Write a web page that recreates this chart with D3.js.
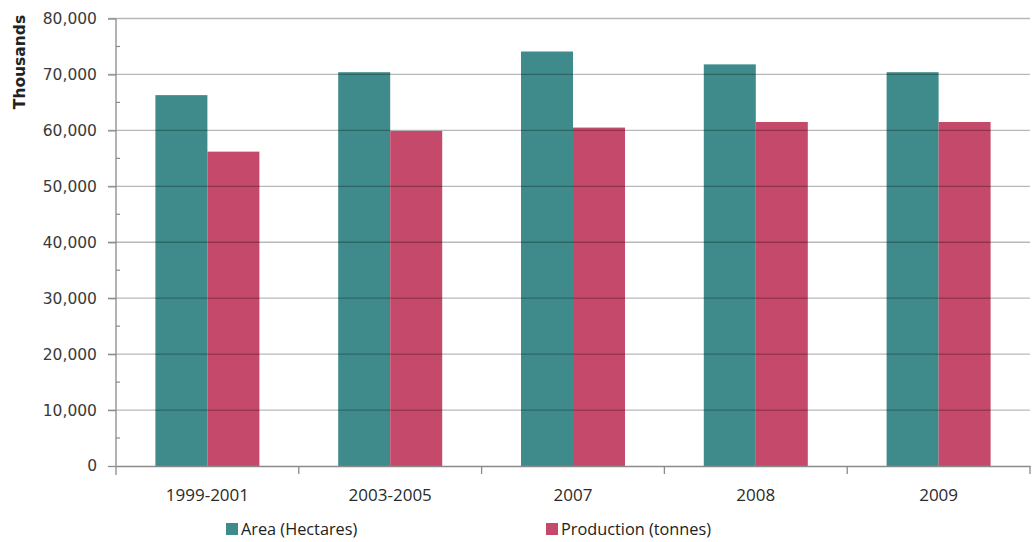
<!DOCTYPE html>
<html>
<head>
<meta charset="utf-8">
<script src="https://cdn.jsdelivr.net/npm/d3@7"></script>
<style>
  html, body { margin: 0; padding: 0; background: #fff; }
  svg { display: block; }
</style>
</head>
<body>
<svg id="chart" width="1033" height="542"></svg>
<script>
// Harvested area and production by period (thousands)
const categories = ["1999-2001", "2003-2005", "2007", "2008", "2009"];
const areaValues = [66300, 70400, 74100, 71800, 70400];
const productionValues = [56200, 59900, 60500, 61500, 61500];
const seriesNames = ["Area (Hectares)", "Production (tonnes)"];
const yTicks = [0, 10000, 20000, 30000, 40000, 50000, 60000, 70000, 80000];

const colors = ["#3f8b8b", "#c4496a"];
const svg = d3.select("#chart");
const margin = { left: 116, right: 1030, top: 18.5, bottom: 466 };

const x = d3.scaleBand().domain(categories).range([margin.left, margin.right]).paddingInner(0).paddingOuter(0);
const inner = d3.scaleBand().domain([0, 1]).range([0, 104]);
const y = d3.scaleLinear().domain([0, 80000]).range([margin.bottom, margin.top]);

const rows = categories.map((c, i) => ({ cat: c, vals: [areaValues[i], productionValues[i]] }));

// bars
const groups = svg.append("g").selectAll("g").data(rows).join("g")
  .attr("transform", d => `translate(${x(d.cat) + (x.bandwidth() - 104) / 2},0)`);
groups.selectAll("rect").data(d => d.vals).join("rect")
  .attr("x", (d, i) => inner(i))
  .attr("width", inner.bandwidth())
  .attr("y", d => y(d))
  .attr("height", d => y(0) - y(d))
  .attr("fill", (d, i) => colors[i]);

// horizontal gridlines drawn over the bars
svg.append("g").selectAll("line").data(yTicks.filter(t => t > 0)).join("line")
  .attr("x1", margin.left - 8).attr("x2", margin.right)
  .attr("y1", d => y(d)).attr("y2", d => y(d))
  .attr("stroke", "#000").attr("stroke-opacity", 0.28).attr("stroke-width", 1.3);

// y axis
const yAxis = d3.axisLeft(y).tickValues(yTicks).tickSize(8).tickFormat(d3.format(","));
const yg = svg.append("g").attr("transform", `translate(${margin.left},0)`).call(yAxis);
yg.select(".domain").remove();
yg.selectAll(".tick line").attr("stroke", "#8a8a8a").attr("stroke-width", 1.3);
yg.selectAll(".tick text")
  .attr("x", -19)
  .style("font-family", "'DejaVu Sans', sans-serif")
  .style("font-size", "15.5px")
  .attr("fill", "#3a3a3a");
svg.append("line")
  .attr("x1", margin.left).attr("x2", margin.left)
  .attr("y1", margin.top).attr("y2", margin.bottom + 9)
  .attr("stroke", "#8a8a8a").attr("stroke-width", 1.3);

// minor ticks between the labelled values
const minor = d3.range(5000, 80000, 10000);
svg.append("g").selectAll("line").data(minor).join("line")
  .attr("x1", margin.left).attr("x2", margin.left + 4)
  .attr("y1", d => y(d)).attr("y2", d => y(d))
  .attr("stroke", "#8a8a8a").attr("stroke-width", 1.2);

// x axis
const xg = svg.append("g").attr("transform", `translate(0,${margin.bottom})`)
  .call(d3.axisBottom(x).tickSize(0).tickPadding(23));
xg.select(".domain").attr("stroke", "#8a8a8a").attr("stroke-width", 1.3);
xg.selectAll(".tick text")
  .style("font-family", "'Open Sans', sans-serif")
  .style("font-size", "17px")
  .attr("fill", "#2a2a2a");
xg.selectAll(".sep").data(categories.slice(1).concat(["end"])).join("line")
  .attr("class", "sep")
  .attr("x1", (d, i) => margin.left + x.bandwidth() * (i + 1))
  .attr("x2", (d, i) => margin.left + x.bandwidth() * (i + 1))
  .attr("y1", 0).attr("y2", 8)
  .attr("stroke", "#8a8a8a").attr("stroke-width", 1.3);

// y axis title
svg.append("text")
  .attr("transform", "translate(25,62) rotate(-90)")
  .attr("text-anchor", "middle")
  .style("font-family", "'DejaVu Sans', sans-serif")
  .style("font-weight", "bold")
  .style("font-size", "15.5px")
  .attr("fill", "#222")
  .text("Thousands");

// legend
const legendX = [226, 546];
const lg = svg.append("g").selectAll("g").data(seriesNames).join("g")
  .attr("transform", (d, i) => `translate(${legendX[i]},523)`);
lg.append("rect").attr("width", 12).attr("height", 12).attr("fill", (d, i) => colors[i]);
lg.append("text")
  .attr("x", 15).attr("y", 12)
  .style("font-family", "'Open Sans', sans-serif")
  .style("font-size", "16.3px")
  .attr("fill", "#222")
  .text(d => d);
</script>
</body>
</html>
